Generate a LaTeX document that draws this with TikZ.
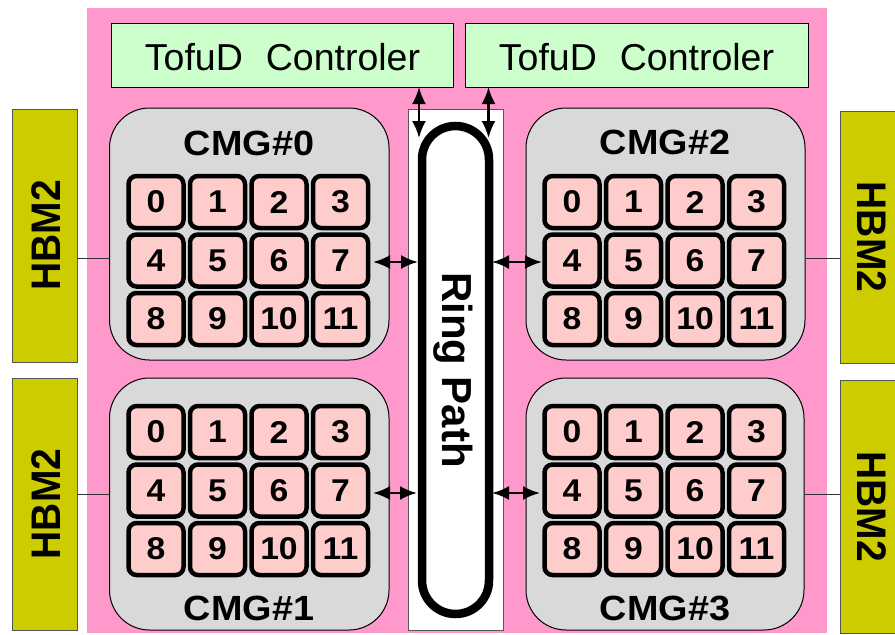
\documentclass[tikz,border=0pt]{standalone}
\usepackage{fontspec}
\setmainfont{Liberation Sans}
\usetikzlibrary{arrows.meta}
\definecolor{bgpink}{HTML}{FF99CC}
\definecolor{tofugreen}{HTML}{CCFFCC}
\definecolor{cmggray}{HTML}{D9D9D9}
\definecolor{cellpink}{HTML}{FFCCCC}
\definecolor{hbmolive}{HTML}{CCCC00}
\definecolor{edgegray}{HTML}{555555}
\newcommand\cmggridx[3]{%
  \foreach \r in {0,1,2}{\foreach \c in {0,1,2,3}{%
    \pgfmathtruncatemacro\nn{4*\r+\c}%
    \node[cell] (#1-\nn) at ({#2+61.5*\c},{#3+58.5*\r}) {\scalebox{1.07}[1]{\nn}};}}}
\tikzset{
  box/.style={inner sep=0pt, outer sep=0pt},
  cell/.style={draw, line width=4.5pt, rounded corners=8pt, fill=cellpink,
    minimum width=55pt, minimum height=52pt, inner sep=0pt, outer sep=0pt,
    font=\fontsize{31.5}{33}\selectfont\bfseries},
  cmg/.style={box, draw, line width=1pt, fill=cmggray, rounded corners=40pt},
  tofu/.style={box, draw, line width=1pt, fill=tofugreen},
  hbm/.style={box, draw=edgegray, line width=1pt, fill=hbmolive},
  cmglabel/.style={anchor=base, inner sep=0pt, font=\fontsize{35}{37}\selectfont\bfseries},
  tofulabel/.style={anchor=base, inner sep=0pt, font=\fontsize{37.5}{40}\selectfont},
  hbmlabel/.style={anchor=base, inner sep=0pt, font=\fontsize{39}{41}\selectfont\bfseries},
  ringlabel/.style={anchor=base, inner sep=0pt, rotate=-90, font=\fontsize{42}{44}\selectfont\bfseries},
  biarrow/.style={line width=2.5pt, {Latex[length=17pt,width=14pt]}-{Latex[length=17pt,width=14pt]}},
  thinlink/.style={line width=1pt, draw=black!80},
}
\begin{document}
\begin{tikzpicture}[x=1pt,y=-1pt]
\useasboundingbox (0,0) rectangle (895,635);
\clip (0,0) rectangle (895,635);
% background
\node[box, fill=bgpink, minimum width=740pt, minimum height=625pt] (bg) at (457,320.5) {};
% HBM2 boxes
\node[hbm, minimum width=65pt, minimum height=253pt] (hbmL0) at (44.5,235.5) {};
\node[hbm, minimum width=65pt, minimum height=252pt] (hbmL1) at (44.5,504) {};
\node[hbm, minimum width=65pt, minimum height=252pt] (hbmR0) at (872.5,237) {};
\node[hbm, minimum width=65pt, minimum height=253pt] (hbmR1) at (872.5,506.5) {};
\node[hbmlabel, rotate=90] (tL0) at (60,235.5) {\scalebox{1}[1.06]{HBM2}};
\node[hbmlabel, rotate=90] (tL1) at (60,504) {\scalebox{1}[1.06]{HBM2}};
\node[hbmlabel, rotate=-90] (tR0) at (857,237) {\scalebox{1}[1.06]{HBM2}};
\node[hbmlabel, rotate=-90] (tR1) at (857,506.5) {\scalebox{1}[1.06]{HBM2}};
% TofuD controllers
\node[tofu, minimum width=342pt, minimum height=64pt] (tofu0) at (282,55) {};
\node[tofu, minimum width=343pt, minimum height=64pt] (tofu1) at (636.5,55) {};
\node[tofulabel] (tt0) at (282.5,70) {TofuD\hspace{23pt}Controler};
\node[tofulabel] (tt1) at (636.5,70) {TofuD\hspace{23pt}Controler};
% Ring path
\node[box, draw=edgegray, line width=1pt, fill=white, minimum width=95pt, minimum height=521pt] (ringbox) at (455.5,369.5) {};
\draw[line width=8.5pt, rounded corners=33.5pt] (422,126) rectangle (489,614);
\node[ringlabel] (rp) at (442,370) {Ring Path};
% CMG boxes
\node[cmg, minimum width=279.5pt, minimum height=252pt] (cmg0) at (249.25,234) {};
\node[cmg, minimum width=279.5pt, minimum height=252pt] (cmg1) at (249.25,504) {};
\node[cmg, minimum width=279pt, minimum height=252pt] (cmg2) at (665.5,234) {};
\node[cmg, minimum width=278pt, minimum height=252pt] (cmg3) at (665,504) {};
\node[cmglabel] (l0) at (249,155) {\scalebox{1.08}[1]{CMG\#0}};
\node[cmglabel] (l1) at (249,620) {\scalebox{1.08}[1]{CMG\#1}};
\node[cmglabel] (l2) at (665,154) {\scalebox{1.08}[1]{CMG\#2}};
\node[cmglabel] (l3) at (665,620) {\scalebox{1.08}[1]{CMG\#3}};
% cores
\cmggridx{a}{156}{202}
\cmggridx{b}{156}{432}
\cmggridx{c}{572}{202}
\cmggridx{d}{572}{432}
% helper coordinates
\coordinate (y258) at (0,258);
\coordinate (y494) at (0,494);
\coordinate (vt0) at (419,138);
\coordinate (vt1) at (488.5,138);
\coordinate (hA0) at (373,262);
\coordinate (hA1) at (418,262);
\coordinate (hB0) at (492,262);
\coordinate (hB1) at (542,262);
\coordinate (hC0) at (373,493);
\coordinate (hC1) at (417,493);
\coordinate (hD0) at (492,493);
\coordinate (hD1) at (540,493);
% HBM links
\draw[thinlink] (hbmL0.east |- y258) -- (cmg0.west |- y258);
\draw[thinlink] (hbmL1.east |- y494) -- (cmg1.west |- y494);
\draw[thinlink] (cmg2.east |- y258) -- (hbmR0.west |- y258);
\draw[thinlink] (cmg3.east |- y494) -- (hbmR1.west |- y494);
% arrows
\draw[biarrow] (tofu0.south -| vt0) -- (vt0);
\draw[biarrow] (tofu1.south -| vt1) -- (vt1);
\draw[biarrow] (hA0) -- (hA1);
\draw[biarrow] (hB0) -- (hB1);
\draw[biarrow] (hC0) -- (hC1);
\draw[biarrow] (hD0) -- (hD1);
\end{tikzpicture}
\end{document}
